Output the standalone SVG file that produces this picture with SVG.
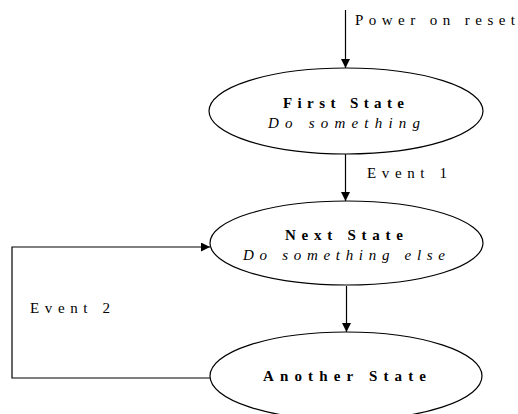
<svg xmlns="http://www.w3.org/2000/svg" width="518" height="414" viewBox="0 0 518 414">
  <style>
    .state { fill: #ffffff; stroke: #000000; stroke-width: 1.2; }
    .edge { fill: none; stroke: #000000; stroke-width: 1.2; }
    .lbl { font-family: "Liberation Serif", "Times New Roman", serif; font-size: 15px; fill: #000000; }
    .title { font-weight: bold; }
    .act { font-style: italic; }
  </style>
  <defs>
    <marker id="arrow" viewBox="0 0 10 10" refX="10" refY="5" markerWidth="9" markerHeight="9" markerUnits="userSpaceOnUse" orient="auto">
      <path d="M0,0 L10,5 L0,10 Z" fill="#000000"/>
    </marker>
  </defs>
  <rect width="518" height="414" fill="#ffffff"/>

  <g id="connectors">
    <line class="edge" x1="345.5" y1="10" x2="345.5" y2="68" marker-end="url(#arrow)"/>
    <text class="lbl" x="355" y="25" textLength="160" lengthAdjust="spacing">Power on reset</text>
    <line class="edge" x1="345.5" y1="154" x2="345.5" y2="201" marker-end="url(#arrow)"/>
    <text class="lbl" x="367" y="178" textLength="80" lengthAdjust="spacing">Event 1</text>
    <line class="edge" x1="346.5" y1="286" x2="346.5" y2="332" marker-end="url(#arrow)"/>
    <polyline class="edge" points="210,378 12,378 12,247 210,247" marker-end="url(#arrow)"/>
    <text class="lbl" x="30" y="313" textLength="80" lengthAdjust="spacing">Event 2</text>
  </g>

  <g id="first-state">
    <ellipse class="state" cx="346" cy="111" rx="137" ry="43"/>
    <text class="lbl title" x="283" y="108" textLength="121" lengthAdjust="spacing">First State</text>
    <text class="lbl act" x="268" y="128" textLength="152" lengthAdjust="spacing">Do something</text>
  </g>

  <g id="next-state">
    <ellipse class="state" cx="346.5" cy="243" rx="136.5" ry="42"/>
    <text class="lbl title" x="285" y="240" textLength="118" lengthAdjust="spacing">Next State</text>
    <text class="lbl act" x="243" y="260" textLength="202" lengthAdjust="spacing">Do something else</text>
  </g>

  <g id="another-state">
    <ellipse class="state" cx="346" cy="376" rx="136" ry="44"/>
    <text class="lbl title" x="263" y="381" textLength="163" lengthAdjust="spacing">Another State</text>
  </g>
</svg>
